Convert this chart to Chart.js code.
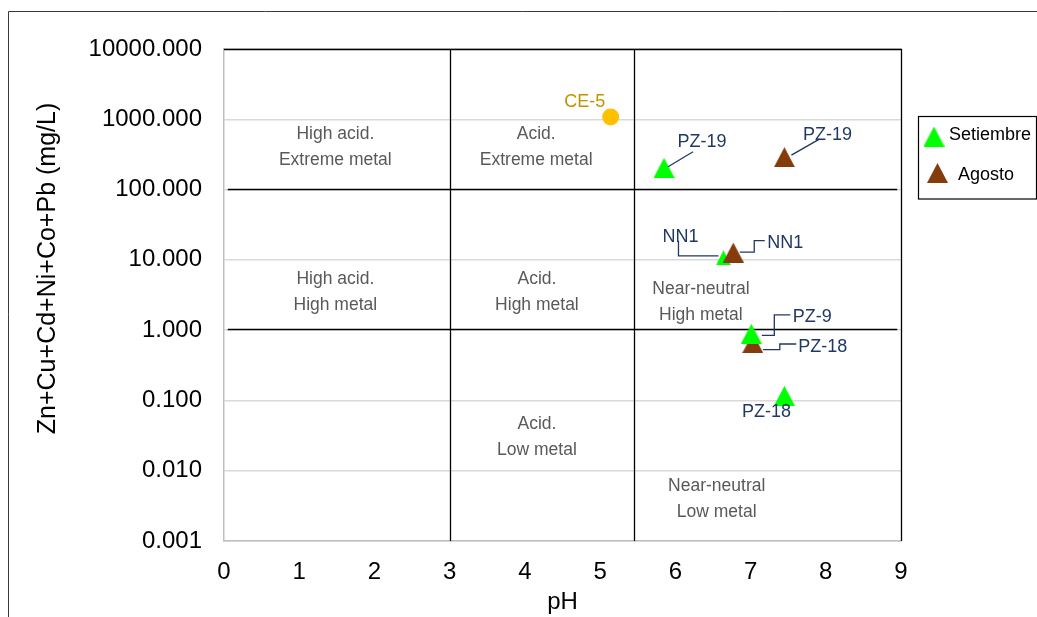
<!DOCTYPE html>
<html>
<head>
<meta charset="utf-8">
<script src="https://cdn.jsdelivr.net/npm/chart.js@4.4.1/dist/chart.umd.min.js"></script>
<style>
  html, body { margin: 0; padding: 0; background: #ffffff; }
  #wrap { width: 1037px; height: 617px; position: relative; }
</style>
</head>
<body>
<div id="wrap"><canvas id="c" width="1037" height="617"></canvas></div>
<script>
const FONT = "'Liberation Sans', Arial, sans-serif";

// Sampling points: pH and dissolved metal load (Zn+Cu+Cd+Ni+Co+Pb, mg/L)
const setiembreNames = ['PZ-19', 'NN1', 'PZ-9', 'PZ-18'];
const setiembrePH    = [5.85, 6.64, 7.01, 7.45];
const setiembreMetal = [204, 10.7, 0.885, 0.116];

const agostoNames = ['PZ-19', 'NN1', 'PZ-18'];
const agostoPH    = [7.45, 6.77, 7.03];
const agostoMetal = [289, 12.7, 0.656];

const ce5Names = ['CE-5'];
const ce5PH    = [5.14];
const ce5Metal = [1080];

const pHTicks    = [0, 1, 2, 3, 4, 5, 6, 7, 8, 9];
const metalTicks = [0.001, 0.01, 0.1, 1, 10, 100, 1000, 10000];

// Ficklin field boundaries
const pHBounds    = [3, 5.45];
const metalBounds = [1, 100];

// Field names, placed in data space (pH, metal)
const fieldNames = [
  [['High acid.', 'Extreme metal'], 1.48, 404],
  [['Acid.', 'Extreme metal'],      4.15, 404],
  [['High acid.', 'High metal'],    1.48, 3.52],
  [['Acid.', 'High metal'],         4.16, 3.52],
  [['Near-neutral', 'High metal'],  6.34, 2.54],
  [['Acid.', 'Low metal'],          4.16, 0.0305],
  [['Near-neutral', 'Low metal'],   6.55, 0.00389]
];

// Label placement for each sample: text offset and leader line (px from the marker)
const labelLayout = {
  'Setiembre|PZ-19': { dx: 38,  dy: -26, leader: [[29, -16], [4, -1]] },
  'Setiembre|NN1':   { dx: -43, dy: -21, leader: [[-45, -17], [-45, -2], [-5, -2]] },
  'Setiembre|PZ-9':  { dx: 61,  dy: -17, leader: [[39, -19], [23, -19], [23, 1.5], [10.5, 1.5]] },
  'Setiembre|PZ-18': { dx: -18, dy: 16 },
  'Agosto|PZ-19':    { dx: 43,  dy: -22, leader: [[35, -18], [7, -2]] },
  'Agosto|NN1':      { dx: 52,  dy: -10, leader: [[31.5, -12], [21, -12], [21, -0.5], [6.5, -0.5]] },
  'Agosto|PZ-18':    { dx: 70,  dy: 4,   leader: [[43.5, 1], [27, 1], [27, 6.7], [10.3, 6.7]] },
  'CE|CE-5':         { dx: -26, dy: -15, color: '#C09400' }
};

const GREEN = '#00FF00';
const BROWN = '#843C0C';
const GOLD  = '#FFC000';
const NAVY  = '#1F3864';

function makeTriangle(color, w, h) {
  const cv = document.createElement('canvas');
  cv.width = w; cv.height = h;
  const g = cv.getContext('2d');
  g.fillStyle = color;
  g.beginPath();
  g.moveTo(w / 2, 0);
  g.lineTo(w, h);
  g.lineTo(0, h);
  g.closePath();
  g.fill();
  return cv;
}
const greenTri = makeTriangle(GREEN, 21, 20);
const greenTriSmall = makeTriangle(GREEN, 15, 15);
const brownTri = makeTriangle(BROWN, 21, 20);

const toPoints = (ph, metal, names, series) =>
  ph.map((v, i) => ({ x: v, y: metal[i], name: names[i], series }));

const setiembrePts = toPoints(setiembrePH, setiembreMetal, setiembreNames, 'Setiembre');
const agostoPts = toPoints(agostoPH, agostoMetal, agostoNames, 'Agosto');
const ce5Pts = toPoints(ce5PH, ce5Metal, ce5Names, 'CE');

// August NN1 sits over the September marker; the other August marks sit beneath
const agostoOnTop = ['NN1'];

const datasets = [
  {
    label: 'Agosto', data: agostoPts.filter(p => agostoOnTop.includes(p.name)),
    pointStyle: brownTri, backgroundColor: BROWN, borderWidth: 0, order: 0
  },
  {
    label: 'Setiembre', data: setiembrePts,
    pointStyle: setiembrePts.map(p => p.name === 'NN1' ? greenTriSmall : greenTri),
    backgroundColor: GREEN, borderWidth: 0, order: 1
  },
  {
    label: 'Agosto', data: agostoPts.filter(p => !agostoOnTop.includes(p.name)),
    pointStyle: brownTri, backgroundColor: BROWN, borderWidth: 0, order: 2
  },
  {
    label: 'CE-5', data: ce5Pts,
    pointStyle: 'circle', pointRadius: 8.5, backgroundColor: GOLD, borderWidth: 0, order: 3
  }
];

const legendItems = [
  { text: 'Setiembre', marker: greenTri, mx: 934, my: 136.5, tx: 949, ty: 135 },
  { text: 'Agosto',    marker: brownTri, mx: 937.5, my: 173, tx: 958, ty: 175 }
];

const ficklinPlugin = {
  id: 'ficklin',
  beforeDatasetsDraw(chart) {
    const { ctx, chartArea: a, scales: { x, y } } = chart;
    ctx.save();
    // field names
    ctx.font = `17.5px ${FONT}`;
    ctx.fillStyle = '#595959';
    ctx.textAlign = 'center';
    ctx.textBaseline = 'middle';
    fieldNames.forEach(([lines, ph, m]) => {
      const cx = x.getPixelForValue(ph), cy = y.getPixelForValue(m);
      lines.forEach((t, i) => ctx.fillText(t, cx, cy + (i - (lines.length - 1) / 2) * 26));
    });
    // field boundaries
    ctx.strokeStyle = '#000000';
    ctx.lineWidth = 1.3;
    ctx.beginPath();
    pHBounds.forEach(v => {
      const px = Math.round(x.getPixelForValue(v)) + 0.5;
      ctx.moveTo(px, a.top); ctx.lineTo(px, a.bottom);
    });
    metalBounds.forEach(v => {
      const py = Math.round(y.getPixelForValue(v)) - 0.5;
      ctx.moveTo(x.getPixelForValue(0.05), py); ctx.lineTo(x.getPixelForValue(8.95), py);
    });
    // top and right frame
    ctx.moveTo(a.left, a.top + 0.5); ctx.lineTo(a.right + 0.5, a.top + 0.5);
    ctx.lineTo(a.right + 0.5, a.bottom);
    ctx.stroke();
    ctx.restore();
  },
  afterDatasetsDraw(chart) {
    const { ctx } = chart;
    ctx.save();
    ctx.font = `18px ${FONT}`;
    ctx.textAlign = 'center';
    ctx.textBaseline = 'middle';
    ctx.lineWidth = 1.3;
    chart.data.datasets.forEach((ds, di) => {
      const meta = chart.getDatasetMeta(di);
      meta.data.forEach((el, i) => {
        const p = ds.data[i];
        const lay = labelLayout[p.series + '|' + p.name];
        if (!lay) return;
        const color = lay.color || NAVY;
        if (lay.leader) {
          ctx.strokeStyle = color;
          ctx.beginPath();
          lay.leader.forEach(([dx, dy], k) => {
            const px = el.x + dx, py = el.y + dy;
            if (k === 0) ctx.moveTo(px, py); else ctx.lineTo(px, py);
          });
          ctx.stroke();
        }
        ctx.fillStyle = color;
        ctx.fillText(p.name, el.x + lay.dx, el.y + lay.dy);
      });
    });
    ctx.restore();
  },
  afterDraw(chart) {
    const { ctx } = chart;
    ctx.save();
    // y axis title
    ctx.font = `25px ${FONT}`;
    ctx.fillStyle = '#000000';
    ctx.textAlign = 'center';
    ctx.textBaseline = 'middle';
    ctx.translate(48, 268.5);
    ctx.rotate(-Math.PI / 2);
    ctx.fillText('Zn+Cu+Cd+Ni+Co+Pb (mg/L)', 0, 0);
    ctx.setTransform(1, 0, 0, 1, 0, 0);
    // legend
    ctx.strokeStyle = '#000000';
    ctx.lineWidth = 1.2;
    ctx.strokeRect(918.5, 116.5, 118, 82.5);
    ctx.font = `18px ${FONT}`;
    ctx.textAlign = 'left';
    legendItems.forEach(it => {
      ctx.drawImage(it.marker, it.mx - it.marker.width / 2, it.my - it.marker.height / 2);
      ctx.fillText(it.text, it.tx, it.ty);
    });
    // outer frame
    ctx.strokeStyle = '#3a3a3a';
    ctx.lineWidth = 1;
    ctx.beginPath();
    ctx.moveTo(8.5, 617); ctx.lineTo(8.5, 11.5); ctx.lineTo(1037, 11.5);
    ctx.stroke();
    ctx.restore();
  }
};

new Chart(document.getElementById('c'), {
  type: 'scatter',
  data: { datasets },
  options: {
    responsive: false,
    animation: false,
    devicePixelRatio: 1,
    layout: { padding: { left: 0, right: 136, top: 49, bottom: 0 } },
    plugins: { legend: { display: false }, tooltip: { enabled: false } },
    scales: {
      x: {
        type: 'linear', min: 0, max: 9,
        afterBuildTicks: s => { s.ticks = pHTicks.map(v => ({ value: v })); },
        ticks: { color: '#000000', font: { family: FONT, size: 24 }, padding: 17 },
        grid: { display: false, drawTicks: false },
        border: { color: '#BFBFBF', width: 1.5 },
        title: { display: true, text: 'pH', color: '#000000', font: { family: FONT, size: 24 }, padding: { top: 0, bottom: 0 } },
        afterFit: s => { s.height = 76; }
      },
      y: {
        type: 'logarithmic', min: 0.001, max: 10000,
        afterBuildTicks: s => { s.ticks = metalTicks.map(v => ({ value: v })); },
        ticks: { color: '#000000', font: { family: FONT, size: 24 }, padding: 22, callback: v => Number(v).toFixed(3) },
        grid: { color: '#D9D9D9', lineWidth: 1.5, drawTicks: false },
        border: { color: '#BFBFBF', width: 1.5 },
        afterFit: s => { s.width = 224; }
      }
    }
  },
  plugins: [ficklinPlugin]
});
</script>
</body>
</html>
